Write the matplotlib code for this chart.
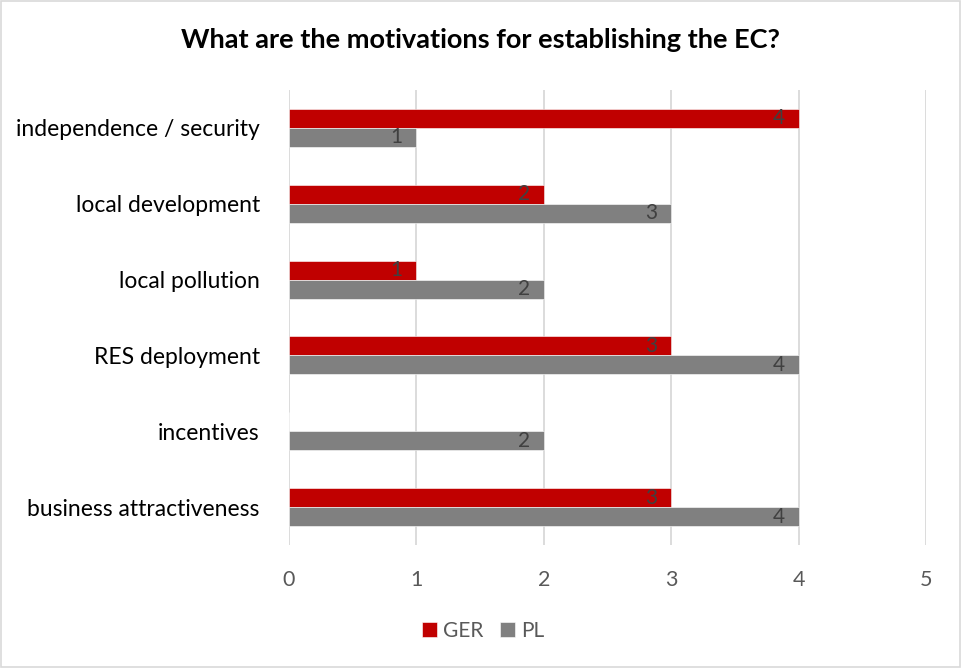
import numpy as np
import matplotlib
matplotlib.use("Agg")
import matplotlib.pyplot as plt
from matplotlib.patches import Rectangle

plt.rcParams['font.family'] = ['Lato', 'DejaVu Sans']

categories = ['independence / security', 'local development', 'local pollution',
              'RES deployment', 'incentives', 'business attractiveness']
ger = [4, 2, 1, 3, 0, 3]
pl = [1, 3, 2, 4, 2, 4]
ticks = [0, 1, 2, 3, 4, 5]

red = '#C00000'
grey = '#808080'
txt = '#595959'

fig = plt.figure(figsize=(9.61, 6.68), dpi=100)
ax = fig.add_axes([0.3007, 0.1841, 0.6629, 0.6812])

y = np.arange(len(categories))
h = 0.25
b1 = ax.barh(y - h / 2, ger, height=h, color=red, edgecolor='white', linewidth=0.4, label='GER', zorder=3)
b2 = ax.barh(y + h / 2, pl, height=h, color=grey, edgecolor='white', linewidth=0.4, label='PL', zorder=3)

# data labels inside the bar end (no label for empty bars)
for bars, vals in ((b1, ger), (b2, pl)):
    for bar, v in zip(bars, vals):
        if v == 0:
            continue
        ax.text(v - 0.11, bar.get_y() + bar.get_height() / 2, str(v),
                ha='right', va='center', fontsize=15, color='#404040', zorder=4)

ax.set_ylim(len(categories) - 0.5, -0.5)
ax.set_xlim(0, 5)
ax.set_xticks(ticks)
ax.set_yticks(y)
ax.set_yticklabels(categories, fontsize=16.5, color='#000000')
ax.tick_params(axis='x', labelsize=15.5, labelcolor=txt, length=0, pad=18)
ax.tick_params(axis='y', length=0, pad=21)
ax.xaxis.grid(True, color='#D9D9D9', linewidth=1.3, zorder=0)
ax.set_axisbelow(True)
for s in ax.spines.values():
    s.set_visible(False)

fig.text(0.5, 0.94, 'What are the motivations for establishing the EC?',
         ha='center', va='center', fontsize=19.5, fontweight='bold', color='#000000')

leg = fig.legend(handles=[b1, b2], loc='center', bbox_to_anchor=(0.503, 0.056), ncol=2,
                 frameon=False, fontsize=15, handlelength=0.7, handleheight=0.7,
                 handletextpad=0.3, columnspacing=0.8)
for t in leg.get_texts():
    t.set_color(txt)

fig.patches.append(Rectangle((0.001, 0.001), 0.998, 0.998, transform=fig.transFigure,
                             fill=False, edgecolor='#D9D9D9', linewidth=1.2))

fig.savefig('out.png', dpi=100, facecolor='white')
